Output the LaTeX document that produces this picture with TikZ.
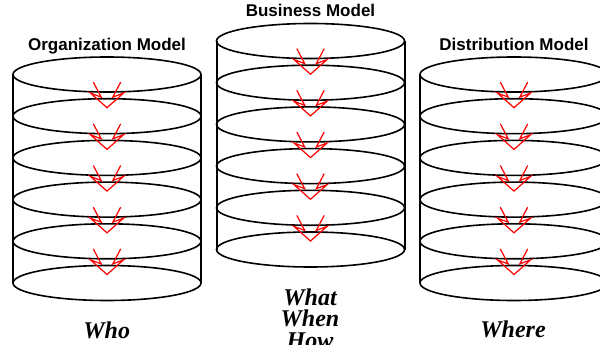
\documentclass[tikz,border=0pt]{standalone}
\usepackage{fontspec}
\setmainfont{Liberation Serif}
\setsansfont{Liberation Sans}
\usetikzlibrary{positioning}
\tikzset{
  disk/.style={line width=1.6pt},
  side/.style={line width=2pt},
  flow/.style={red, line width=1.2pt, line join=miter},
  title/.style={font=\sffamily\bfseries\fontsize{17}{20}\selectfont, anchor=base},
  tag/.style={font=\bfseries\itshape\fontsize{24}{21.5}\selectfont, anchor=base},
  pics/dnarrow/.style={code={
    \draw[flow] (-13.7,-25.6) -- (-5.8,-10.6) -- (-16.5,-14.6) -- (0,0)
      -- (16.5,-14.6) -- (5.8,-10.6) -- (13.7,-25.6);}}
}

\begin{document}
\begin{tikzpicture}[x=1pt, y=-1pt]
\clip (0,0) rectangle (600,345);
% the three stacks of disks
\foreach \name/\cx/\ty in {org/107/74.5, bus/310.5/41, dist/514/74.5}{
  \foreach \k in {0,...,5}
    \coordinate (\name-\k) at (\cx, {\ty+41.7*\k});
  \draw[side] ([xshift=-94pt]\name-0) -- ([xshift=-94pt]\name-5);
  \draw[side] ([xshift=94pt]\name-0) -- ([xshift=94pt]\name-5);
  \foreach \k in {0,...,5}
    \draw[disk] (\name-\k) ellipse [x radius=94pt, y radius=17.5pt];
  \foreach \k in {1,...,5}
    \pic at ([yshift=8.5pt]\name-\k) {dnarrow};
}
% titles
\node[title] (org-title) at (107,50.7) {Organization Model};
\node[title] (bus-title) at (310.5,16.7) {Business Model};
\node[title] (dist-title) at (514,50.3) {Distribution Model};
% questions
\node[tag] (org-tag) at (106.7,338) {Who};
\node[tag] (bus-tag) at (310,305) {What};
\node[tag] (bus-tag2) at ([yshift=-21.5pt]bus-tag.base) {When};
\node[tag] (bus-tag3) at ([yshift=-21.5pt]bus-tag2.base) {How};
\node[tag] (dist-tag) at (513,337) {Where};
\end{tikzpicture}
\end{document}
